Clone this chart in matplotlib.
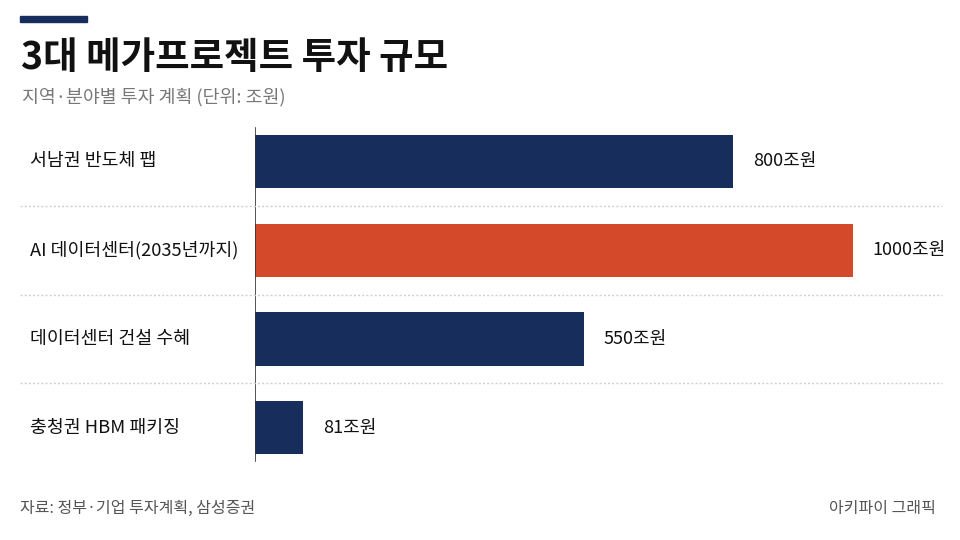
import matplotlib
matplotlib.use("Agg")
import matplotlib.pyplot as plt
import matplotlib.transforms as mtransforms
from matplotlib.lines import Line2D
from matplotlib.patches import Rectangle

plt.rcParams['font.family'] = ['Noto Sans CJK KR', 'DejaVu Sans']

categories = ["서남권 반도체 팹", "AI 데이터센터(2035년까지)", "데이터센터 건설 수혜", "충청권 HBM 패키징"]
values = [800, 1000, 550, 81]
value_labels = ["800조원", "1000조원", "550조원", "81조원"]
highlight = [False, True, False, False]

navy = "#172E5C"
orange = "#D5492B"

fig = plt.figure(figsize=(9.6, 5.4), dpi=100)
fig.patch.set_facecolor("white")

W, H = 960, 540
ax = fig.add_axes([255 / W, 1 - 472 / H, 670 / W, 355 / H])

y = list(range(len(categories)))
colors = [orange if h else navy for h in highlight]
ax.barh(y, values, height=0.6, color=colors, zorder=2)
ax.set_ylim(len(categories) - 0.5, -0.5)
ax.set_xlim(0, 670 / 0.598)
ax.axis("off")

# zero line
ax.axvline(0, ymin=0.03, ymax=0.97, color="#333333", lw=1.2, zorder=3)

for i, (v, lab) in enumerate(zip(values, value_labels)):
    ax.annotate(lab, (v, i), xytext=(14, 0), textcoords="offset points",
                va="center", ha="left", fontsize=13, fontweight="medium",
                color="#111111")

# category labels and separators
trans = mtransforms.blended_transform_factory(fig.transFigure, ax.transData)
for i, c in enumerate(categories):
    ax.text(30 / W, i, c, transform=trans, va="center", ha="left",
            fontsize=13.2, fontweight="medium", color="#111111")
for i in range(len(categories) - 1):
    fig.add_artist(Line2D([20 / W, 942 / W], [i + 0.5, i + 0.5], transform=trans,
                          color="#d0d0d0", lw=1, ls=(0, (1.5, 1.5)), zorder=1))

# header
fig.add_artist(Rectangle((20 / W, 1 - 22 / H), 67 / W, 6 / H,
                         transform=fig.transFigure, color=navy))
fig.text(21 / W, 1 - 57 / H, "3대 메가프로젝트 투자 규모", fontsize=27,
         fontweight="black", color="#111111", va="center", ha="left")
fig.text(22 / W, 1 - 97 / H, "지역·분야별 투자 계획 (단위: 조원)", fontsize=13.2,
         color="#777777", va="center", ha="left")

# footer
fig.text(20 / W, 1 - 508 / H, "자료: 정부·기업 투자계획, 삼성증권", fontsize=11.5,
         color="#555555", va="center", ha="left")
fig.text(936 / W, 1 - 508 / H, "아키파이 그래픽", fontsize=11.5,
         color="#555555", va="center", ha="right")

plt.savefig("out.png", dpi=100)
